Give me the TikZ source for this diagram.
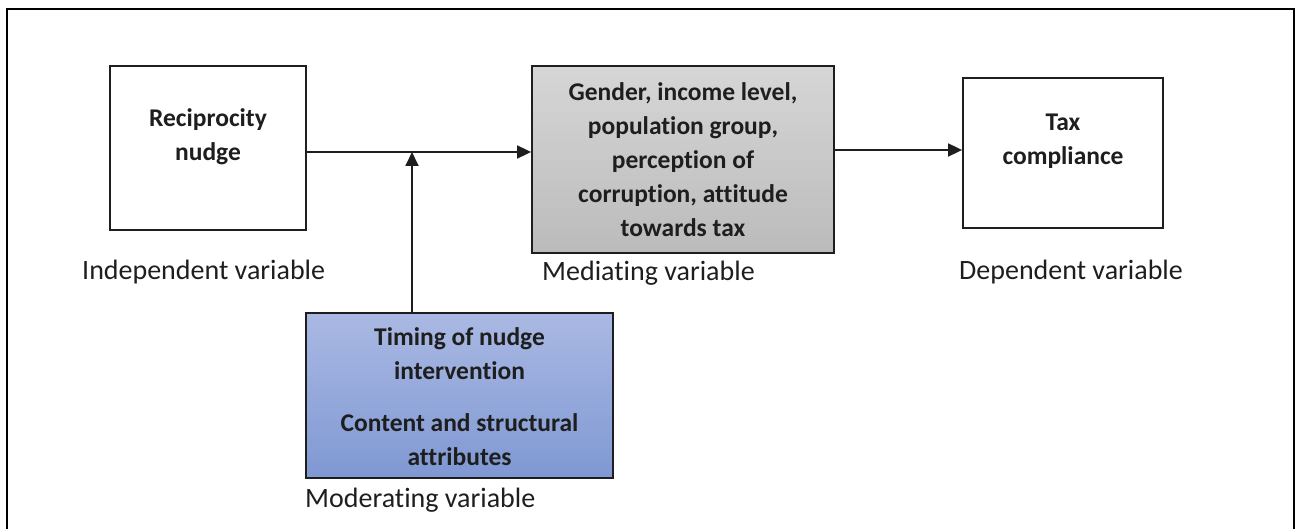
\documentclass[tikz,border=0pt]{standalone}
\usepackage{fontspec}
\setmainfont{Carlito}[Ligatures=CommonOff]
\usetikzlibrary{arrows.meta}
\definecolor{medtop}{HTML}{D6D6D6}
\definecolor{medbot}{HTML}{BBBBBB}
\definecolor{modtop}{HTML}{AAB9E3}
\definecolor{modbot}{HTML}{7F98D3}
\definecolor{ink}{HTML}{1E1E1E}
\begin{document}
\begin{tikzpicture}[x=1pt,y=-1pt,
  varbox/.style={draw=ink, line width=1.8pt, inner sep=0pt, rectangle},
  boxtext/.style={align=center, text=ink, inner sep=0pt,
    font=\fontsize{25.5}{34}\selectfont\bfseries},
  vartag/.style={anchor=west, text=ink, inner sep=0pt,
    font=\fontsize{28}{34}\selectfont},
  conn/.style={line width=1.8pt, draw=ink,
    -{Triangle[length=14pt,width=13pt]}}
]
\useasboundingbox (0,0) rectangle (1296,529);
% outer frame, open at the bottom
\draw[line width=2.5pt, draw=black] (7,529) -- (7,9) -- (1294,9) -- (1294,529);

% boxes
\node[varbox, minimum width=196pt, minimum height=164pt, fill=white] (indep) at (208,148) {};
\node[varbox, minimum width=302pt, minimum height=187pt,
      top color=medtop, bottom color=medbot] (med) at (683,159.5) {};
\node[varbox, minimum width=200pt, minimum height=150pt, fill=white] (dep) at (1063,153) {};
\node[varbox, minimum width=307pt, minimum height=165pt,
      top color=modtop, bottom color=modbot] (mod) at (459.5,395.5) {};

% box contents
\node[boxtext] (indepT) at (208,137) {Reciprocity\\nudge};
\node[boxtext] (medT) at (683,160) {Gender, income level,\\population group,\\perception of\\corruption, attitude\\towards tax};
\node[boxtext] (depT) at (1063,141) {Tax\\compliance};
\node[boxtext] (modT) at (459.5,397) {Timing of nudge\\intervention\\[18pt]Content and structural\\attributes};

% variable names
\node[vartag] (indepL) at (82,272) {Independent variable};
\node[vartag] (medL) at (542,273) {Mediating variable};
\node[vartag] (depL) at (959,272) {Dependent variable};
\node[vartag] (modL) at (305,500) {Moderating variable};

% connectors
\coordinate (junction) at (412,152);
\coordinate (rightline) at (900,150);
\draw[conn] (indep.east |- junction) -- (med.west |- junction);
\draw[conn] (med.east |- rightline) -- (dep.west |- rightline);
\draw[conn] (mod.north -| junction) -- (junction);
\end{tikzpicture}
\end{document}
